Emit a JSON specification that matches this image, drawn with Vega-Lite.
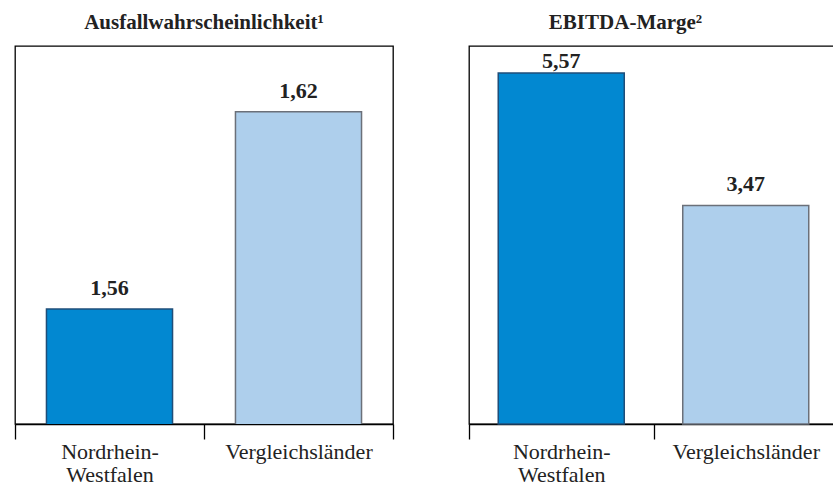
{
  "$schema": "https://vega.github.io/schema/vega-lite/v6.json",
  "padding": {"left": 13, "top": 11, "right": 0, "bottom": 0},
  "background": "white",
  "data": {"values": [
    {"kennzahl": "Ausfallwahrscheinlichkeit", "region": "Nordrhein-Westfalen", "wert": 1.56},
    {"kennzahl": "Ausfallwahrscheinlichkeit", "region": "Vergleichsländer", "wert": 1.62},
    {"kennzahl": "EBITDA-Marge", "region": "Nordrhein-Westfalen", "wert": 5.57},
    {"kennzahl": "EBITDA-Marge", "region": "Vergleichsländer", "wert": 3.47}
  ]},
  "spacing": 72,
  "hconcat": [
    {
      "title": {"text": "Ausfallwahrscheinlichkeit¹"},
      "width": 378,
      "height": 378,
      "transform": [{"filter": "datum.kennzahl == 'Ausfallwahrscheinlichkeit'"}],
      "encoding": {
        "x": {"field": "region", "type": "nominal", "sort": null,
              "scale": {"paddingInner": 0, "paddingOuter": 0}},
        "y": {"field": "wert", "type": "quantitative",
              "scale": {"domain": [1.525, 1.64], "zero": false, "nice": false}, "axis": null}
      },
      "layer": [
        {"mark": {"type": "bar", "width": {"band": 0.667}, "strokeWidth": 1.5, "clip": true},
         "encoding": {
           "color": {"field": "region", "type": "nominal", "legend": null,
                     "scale": {"domain": ["Nordrhein-Westfalen", "Vergleichsländer"], "range": ["#0288D1", "#AECFEC"]}},
           "stroke": {"field": "region", "type": "nominal", "legend": null,
                      "scale": {"domain": ["Nordrhein-Westfalen", "Vergleichsländer"], "range": ["#1F4E79", "#6B7079"]}}
         }},
        {"mark": {"type": "text", "dy": -14, "baseline": "alphabetic", "fontWeight": "bold", "fontSize": 22, "font": "Liberation Serif", "color": "#222222"},
         "encoding": {"text": {"field": "wert", "type": "quantitative", "format": ".2f"}}}
      ]
    },
    {
      "title": {"text": "EBITDA-Marge²", "dx": -28},
      "width": 369,
      "height": 378,
      "transform": [{"filter": "datum.kennzahl == 'EBITDA-Marge'"}],
      "encoding": {
        "x": {"field": "region", "type": "nominal", "sort": null,
              "scale": {"paddingInner": 0, "paddingOuter": 0}},
        "y": {"field": "wert", "type": "quantitative",
              "scale": {"domain": [0, 6], "nice": false}, "axis": null}
      },
      "layer": [
        {"mark": {"type": "bar", "width": {"band": 0.683}, "strokeWidth": 1.5},
         "encoding": {
           "color": {"field": "region", "type": "nominal", "legend": null,
                     "scale": {"domain": ["Nordrhein-Westfalen", "Vergleichsländer"], "range": ["#0288D1", "#AECFEC"]}},
           "stroke": {"field": "region", "type": "nominal", "legend": null,
                      "scale": {"domain": ["Nordrhein-Westfalen", "Vergleichsländer"], "range": ["#1F4E79", "#6B7079"]}}
         }},
        {"transform": [{"filter": "datum.wert < 5"}],
         "mark": {"type": "text", "dy": -14, "baseline": "alphabetic", "fontWeight": "bold", "fontSize": 22, "font": "Liberation Serif", "color": "#222222"},
         "encoding": {"text": {"field": "wert", "type": "quantitative", "format": ".2f"}}},
        {"transform": [{"filter": "datum.wert >= 5"}],
         "mark": {"type": "text", "dy": -5, "baseline": "alphabetic", "fontWeight": "bold", "fontSize": 22, "font": "Liberation Serif", "color": "#222222"},
         "encoding": {"text": {"field": "wert", "type": "quantitative", "format": ".2f"}}}
      ]
    }
  ],
  "resolve": {"scale": {"color": "independent", "stroke": "independent"}},
  "config": {
    "locale": {"number": {"decimal": ",", "thousands": ".", "grouping": [3], "currency": ["", " €"]}},
    "view": {"stroke": "#000000", "strokeWidth": 1.3},
    "title": {"font": "Liberation Serif", "fontSize": 21, "fontWeight": "bold", "color": "#222222", "offset": 13, "anchor": "middle"},
    "axisX": {
      "title": null,
      "labelAngle": 0,
      "tickBand": "extent",
      "tickSize": 15,
      "tickColor": "#000000",
      "tickWidth": 1.3,
      "domainColor": "#000000",
      "domainWidth": 1.3,
      "labelFont": "Liberation Serif",
      "labelFontSize": 22,
      "labelColor": "#222222",
      "labelPadding": 2,
      "labelLineHeight": 23,
      "labelExpr": "datum.value == 'Nordrhein-Westfalen' ? ['Nordrhein-', 'Westfalen'] : datum.value"
    }
  }
}
